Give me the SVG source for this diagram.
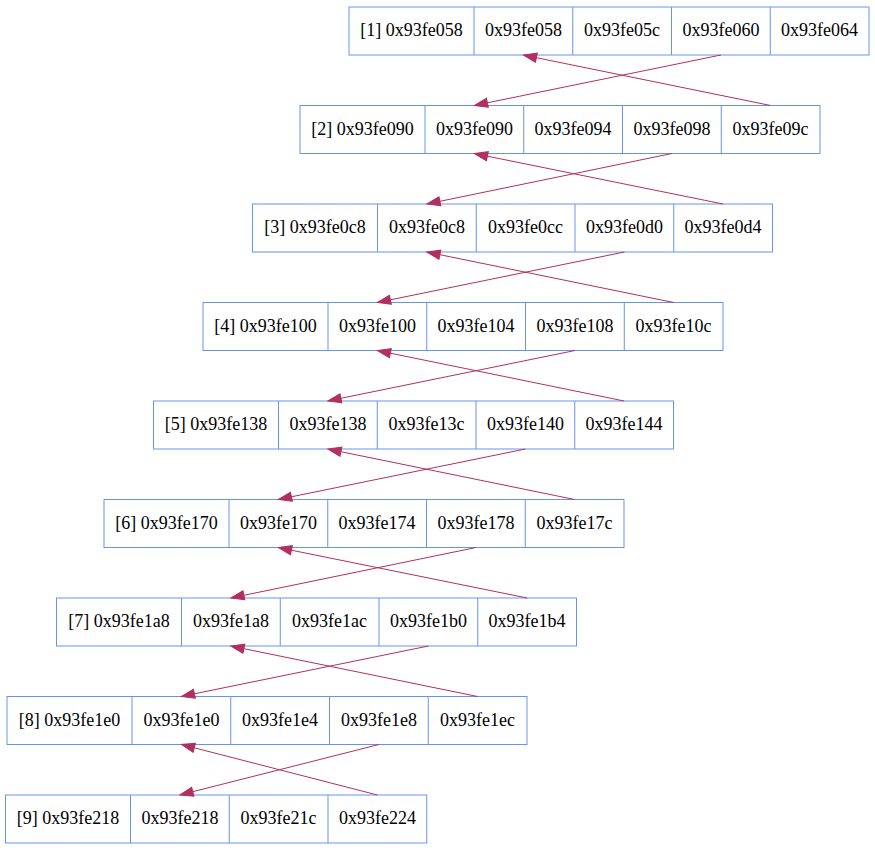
<svg xmlns="http://www.w3.org/2000/svg" width="875" height="851" viewBox="0 0 875 851">
  <style>
    .box { fill: #ffffff; stroke: #6495ed; stroke-width: 1; }
    .sep { stroke: #6495ed; stroke-width: 1; }
    .lbl { font-family: "Liberation Serif", "Times New Roman", serif; font-size: 18px; fill: #000000; text-anchor: middle; }
    .edge { fill: none; stroke: #b03060; stroke-width: 1; marker-end: url(#arrow); }
  </style>
  <defs>
    <marker id="arrow" markerUnits="userSpaceOnUse" markerWidth="14" markerHeight="10" refX="0" refY="4.65" orient="auto" overflow="visible">
      <path d="M0,0 L13.3,4.65 L0,9.3 z" fill="#b03060" stroke="#b03060" stroke-width="1"/>
    </marker>
  </defs>
  <rect width="875" height="851" fill="#ffffff"/>

  <!-- record nodes: five fields each (the last one has four) -->
  <g id="node1" transform="translate(349,7)">
    <rect class="box" x="0" y="0" width="520" height="48"/>
    <path class="sep" d="M125,0V48M223.75,0V48M322.5,0V48M421.25,0V48"/>
    <text class="lbl" x="62.5" y="29">[1] 0x93fe058</text>
    <text class="lbl" x="174.4" y="29">0x93fe058</text>
    <text class="lbl" x="273.1" y="29">0x93fe05c</text>
    <text class="lbl" x="371.9" y="29">0x93fe060</text>
    <text class="lbl" x="470.6" y="29">0x93fe064</text>
  </g>
  <g id="node2" transform="translate(300,105.5)">
    <rect class="box" x="0" y="0" width="520" height="48"/>
    <path class="sep" d="M125,0V48M223.75,0V48M322.5,0V48M421.25,0V48"/>
    <text class="lbl" x="62.5" y="29">[2] 0x93fe090</text>
    <text class="lbl" x="174.4" y="29">0x93fe090</text>
    <text class="lbl" x="273.1" y="29">0x93fe094</text>
    <text class="lbl" x="371.9" y="29">0x93fe098</text>
    <text class="lbl" x="470.6" y="29">0x93fe09c</text>
  </g>
  <g id="node3" transform="translate(252.5,204)">
    <rect class="box" x="0" y="0" width="520" height="48"/>
    <path class="sep" d="M125,0V48M223.75,0V48M322.5,0V48M421.25,0V48"/>
    <text class="lbl" x="62.5" y="29">[3] 0x93fe0c8</text>
    <text class="lbl" x="174.4" y="29">0x93fe0c8</text>
    <text class="lbl" x="273.1" y="29">0x93fe0cc</text>
    <text class="lbl" x="371.9" y="29">0x93fe0d0</text>
    <text class="lbl" x="470.6" y="29">0x93fe0d4</text>
  </g>
  <g id="node4" transform="translate(203,302.5)">
    <rect class="box" x="0" y="0" width="520" height="48"/>
    <path class="sep" d="M125,0V48M223.75,0V48M322.5,0V48M421.25,0V48"/>
    <text class="lbl" x="62.5" y="29">[4] 0x93fe100</text>
    <text class="lbl" x="174.4" y="29">0x93fe100</text>
    <text class="lbl" x="273.1" y="29">0x93fe104</text>
    <text class="lbl" x="371.9" y="29">0x93fe108</text>
    <text class="lbl" x="470.6" y="29">0x93fe10c</text>
  </g>
  <g id="node5" transform="translate(153.5,401)">
    <rect class="box" x="0" y="0" width="520" height="48"/>
    <path class="sep" d="M125,0V48M223.75,0V48M322.5,0V48M421.25,0V48"/>
    <text class="lbl" x="62.5" y="29">[5] 0x93fe138</text>
    <text class="lbl" x="174.4" y="29">0x93fe138</text>
    <text class="lbl" x="273.1" y="29">0x93fe13c</text>
    <text class="lbl" x="371.9" y="29">0x93fe140</text>
    <text class="lbl" x="470.6" y="29">0x93fe144</text>
  </g>
  <g id="node6" transform="translate(104,499.5)">
    <rect class="box" x="0" y="0" width="520" height="48"/>
    <path class="sep" d="M125,0V48M223.75,0V48M322.5,0V48M421.25,0V48"/>
    <text class="lbl" x="62.5" y="29">[6] 0x93fe170</text>
    <text class="lbl" x="174.4" y="29">0x93fe170</text>
    <text class="lbl" x="273.1" y="29">0x93fe174</text>
    <text class="lbl" x="371.9" y="29">0x93fe178</text>
    <text class="lbl" x="470.6" y="29">0x93fe17c</text>
  </g>
  <g id="node7" transform="translate(56.5,598)">
    <rect class="box" x="0" y="0" width="520" height="48"/>
    <path class="sep" d="M125,0V48M223.75,0V48M322.5,0V48M421.25,0V48"/>
    <text class="lbl" x="62.5" y="29">[7] 0x93fe1a8</text>
    <text class="lbl" x="174.4" y="29">0x93fe1a8</text>
    <text class="lbl" x="273.1" y="29">0x93fe1ac</text>
    <text class="lbl" x="371.9" y="29">0x93fe1b0</text>
    <text class="lbl" x="470.6" y="29">0x93fe1b4</text>
  </g>
  <g id="node8" transform="translate(7,696.5)">
    <rect class="box" x="0" y="0" width="520" height="48"/>
    <path class="sep" d="M125,0V48M223.75,0V48M322.5,0V48M421.25,0V48"/>
    <text class="lbl" x="62.5" y="29">[8] 0x93fe1e0</text>
    <text class="lbl" x="174.4" y="29">0x93fe1e0</text>
    <text class="lbl" x="273.1" y="29">0x93fe1e4</text>
    <text class="lbl" x="371.9" y="29">0x93fe1e8</text>
    <text class="lbl" x="470.6" y="29">0x93fe1ec</text>
  </g>
  <g id="node9" transform="translate(5.5,795)">
    <rect class="box" x="0" y="0" width="421.25" height="48"/>
    <path class="sep" d="M125,0V48M223.75,0V48M322.5,0V48"/>
    <text class="lbl" x="62.5" y="29">[9] 0x93fe218</text>
    <text class="lbl" x="174.4" y="29">0x93fe218</text>
    <text class="lbl" x="273.1" y="29">0x93fe21c</text>
    <text class="lbl" x="371.9" y="29">0x93fe224</text>
  </g>

  <!-- links between consecutive records -->
  <g id="edges">
    <path class="edge" d="M720.9,55L487.4,102.8"/>
    <path class="edge" d="M770.6,105.5L536.4,57.7"/>
    <path class="edge" d="M671.9,153.5L439.9,201.3"/>
    <path class="edge" d="M723.1,204L487.4,156.2"/>
    <path class="edge" d="M624.4,252L390.4,299.8"/>
    <path class="edge" d="M673.6,302.5L439.9,254.7"/>
    <path class="edge" d="M574.9,350.5L340.9,398.3"/>
    <path class="edge" d="M624.1,401L390.4,353.2"/>
    <path class="edge" d="M525.4,449L291.4,496.8"/>
    <path class="edge" d="M574.6,499.5L340.9,451.7"/>
    <path class="edge" d="M475.9,547.5L243.9,595.3"/>
    <path class="edge" d="M527.1,598L291.4,550.2"/>
    <path class="edge" d="M428.4,646L194.4,693.8"/>
    <path class="edge" d="M477.6,696.5L243.9,648.7"/>
    <path class="edge" d="M378.9,744.5L192.8,791.7"/>
    <path class="edge" d="M377.4,795L194.3,747.8"/>
  </g>
</svg>
